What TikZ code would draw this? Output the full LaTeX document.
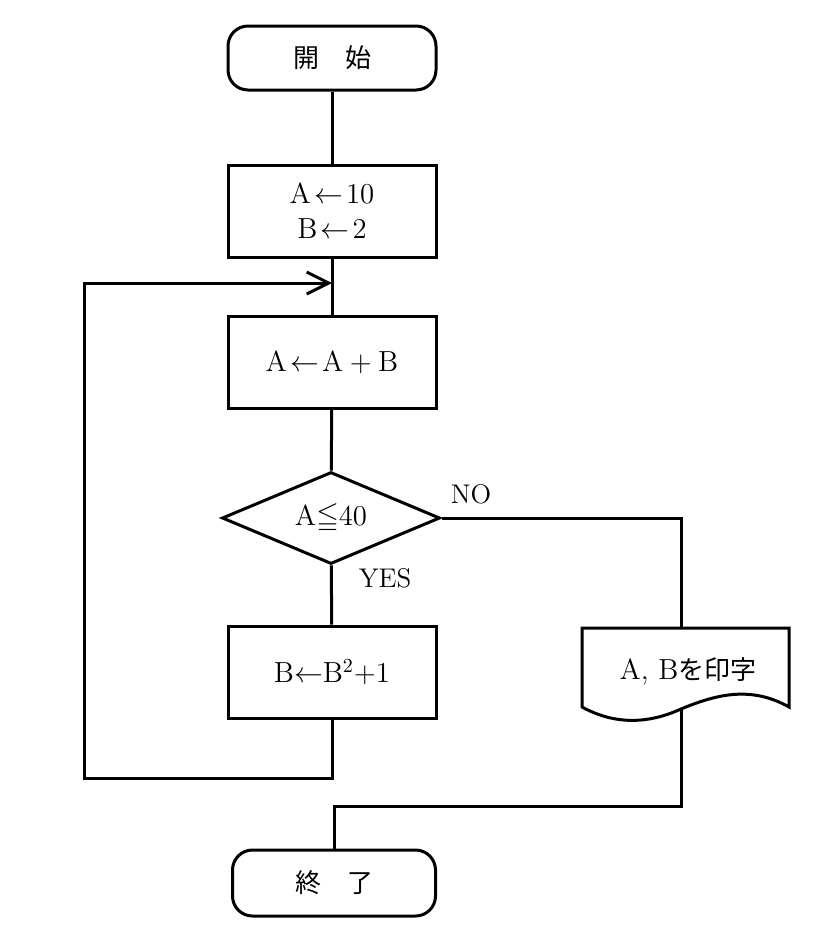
\documentclass[tikz,border=0pt]{standalone}
\usepackage{amsmath,amssymb}
\usepackage{fontspec}
\newfontfamily\cjk{Noto Sans CJK JP}
\usetikzlibrary{shapes.geometric,arrows.meta}
\begin{document}
\begin{tikzpicture}[x=0.5pt,y=-0.5pt,line width=1.5pt,line join=miter,
  proc/.style={draw,rectangle,minimum width=104pt,minimum height=46pt,inner sep=0pt,
    align=center,font=\fontsize{14.5}{17.5}\selectfont},
  term/.style={draw,rectangle,rounded corners=10pt,minimum width=104pt,minimum height=32pt,
    inner sep=0pt,font=\cjk\fontsize{13}{15}\selectfont},
  dec/.style={draw,diamond,aspect=2.37,minimum width=109pt,minimum height=46pt,inner sep=0pt,
    font=\fontsize{14.5}{17}\selectfont},
  lbl/.style={font=\fontsize{13.5}{15}\selectfont,inner sep=0pt},
  loopar/.style={-{Straight Barb[length=11pt,width=11pt,line width=1.5pt]}}]
\useasboundingbox (0,0) rectangle (826,944);

\node[term] (start) at (332,58) {開　始};
\node[proc] (init) at (332,211) {$\mathrm{A}\!\leftarrow\! 10$\\$\mathrm{B}\!\leftarrow\! 2$};
\coordinate (merge) at (332,283);
\node[proc] (add) at (332,362.5) {$\mathrm{A}\!\leftarrow\!\mathrm{A}+\mathrm{B}$};
\node[dec] (cond) at (331,518) {$\mathrm{A}{\leqq}40$};
\node[proc] (sq) at (332,672) {$\mathrm{B}{\leftarrow}\mathrm{B}^{2}{+}1$};
\node[term,minimum width=101.5pt,minimum height=33pt] (end) at (334,883) {終　了};

% output document
\draw (582,628) -- (789,628) -- (789,707)
  .. controls (750,685) and (715,695) .. (681,709)
  .. controls (648,724) and (615,725) .. (582,707) -- cycle;
\node[font=\fontsize{14.5}{17}\selectfont,inner sep=0pt] (doc) at (688,671) {A, B{\cjk\fontsize{13}{15}\selectfont を印字}};
\coordinate (docT) at (681,628);
\coordinate (docB) at (681,709);

\node[lbl] (no) at (471,494) {NO};
\node[lbl] (yes) at (385,578) {YES};

% connectors
\draw (start) -- (init);
\draw (init) -- (add);
\draw (add) -- (cond);
\draw (cond) -- (sq);
\draw (cond.east) -| (docT);
\draw (docB) -- (681,806) -| (end.north);
\draw[loopar] (sq.south) -- (332,778) -- (84,778) -- (84,283) -- (merge);
\end{tikzpicture}
\end{document}
